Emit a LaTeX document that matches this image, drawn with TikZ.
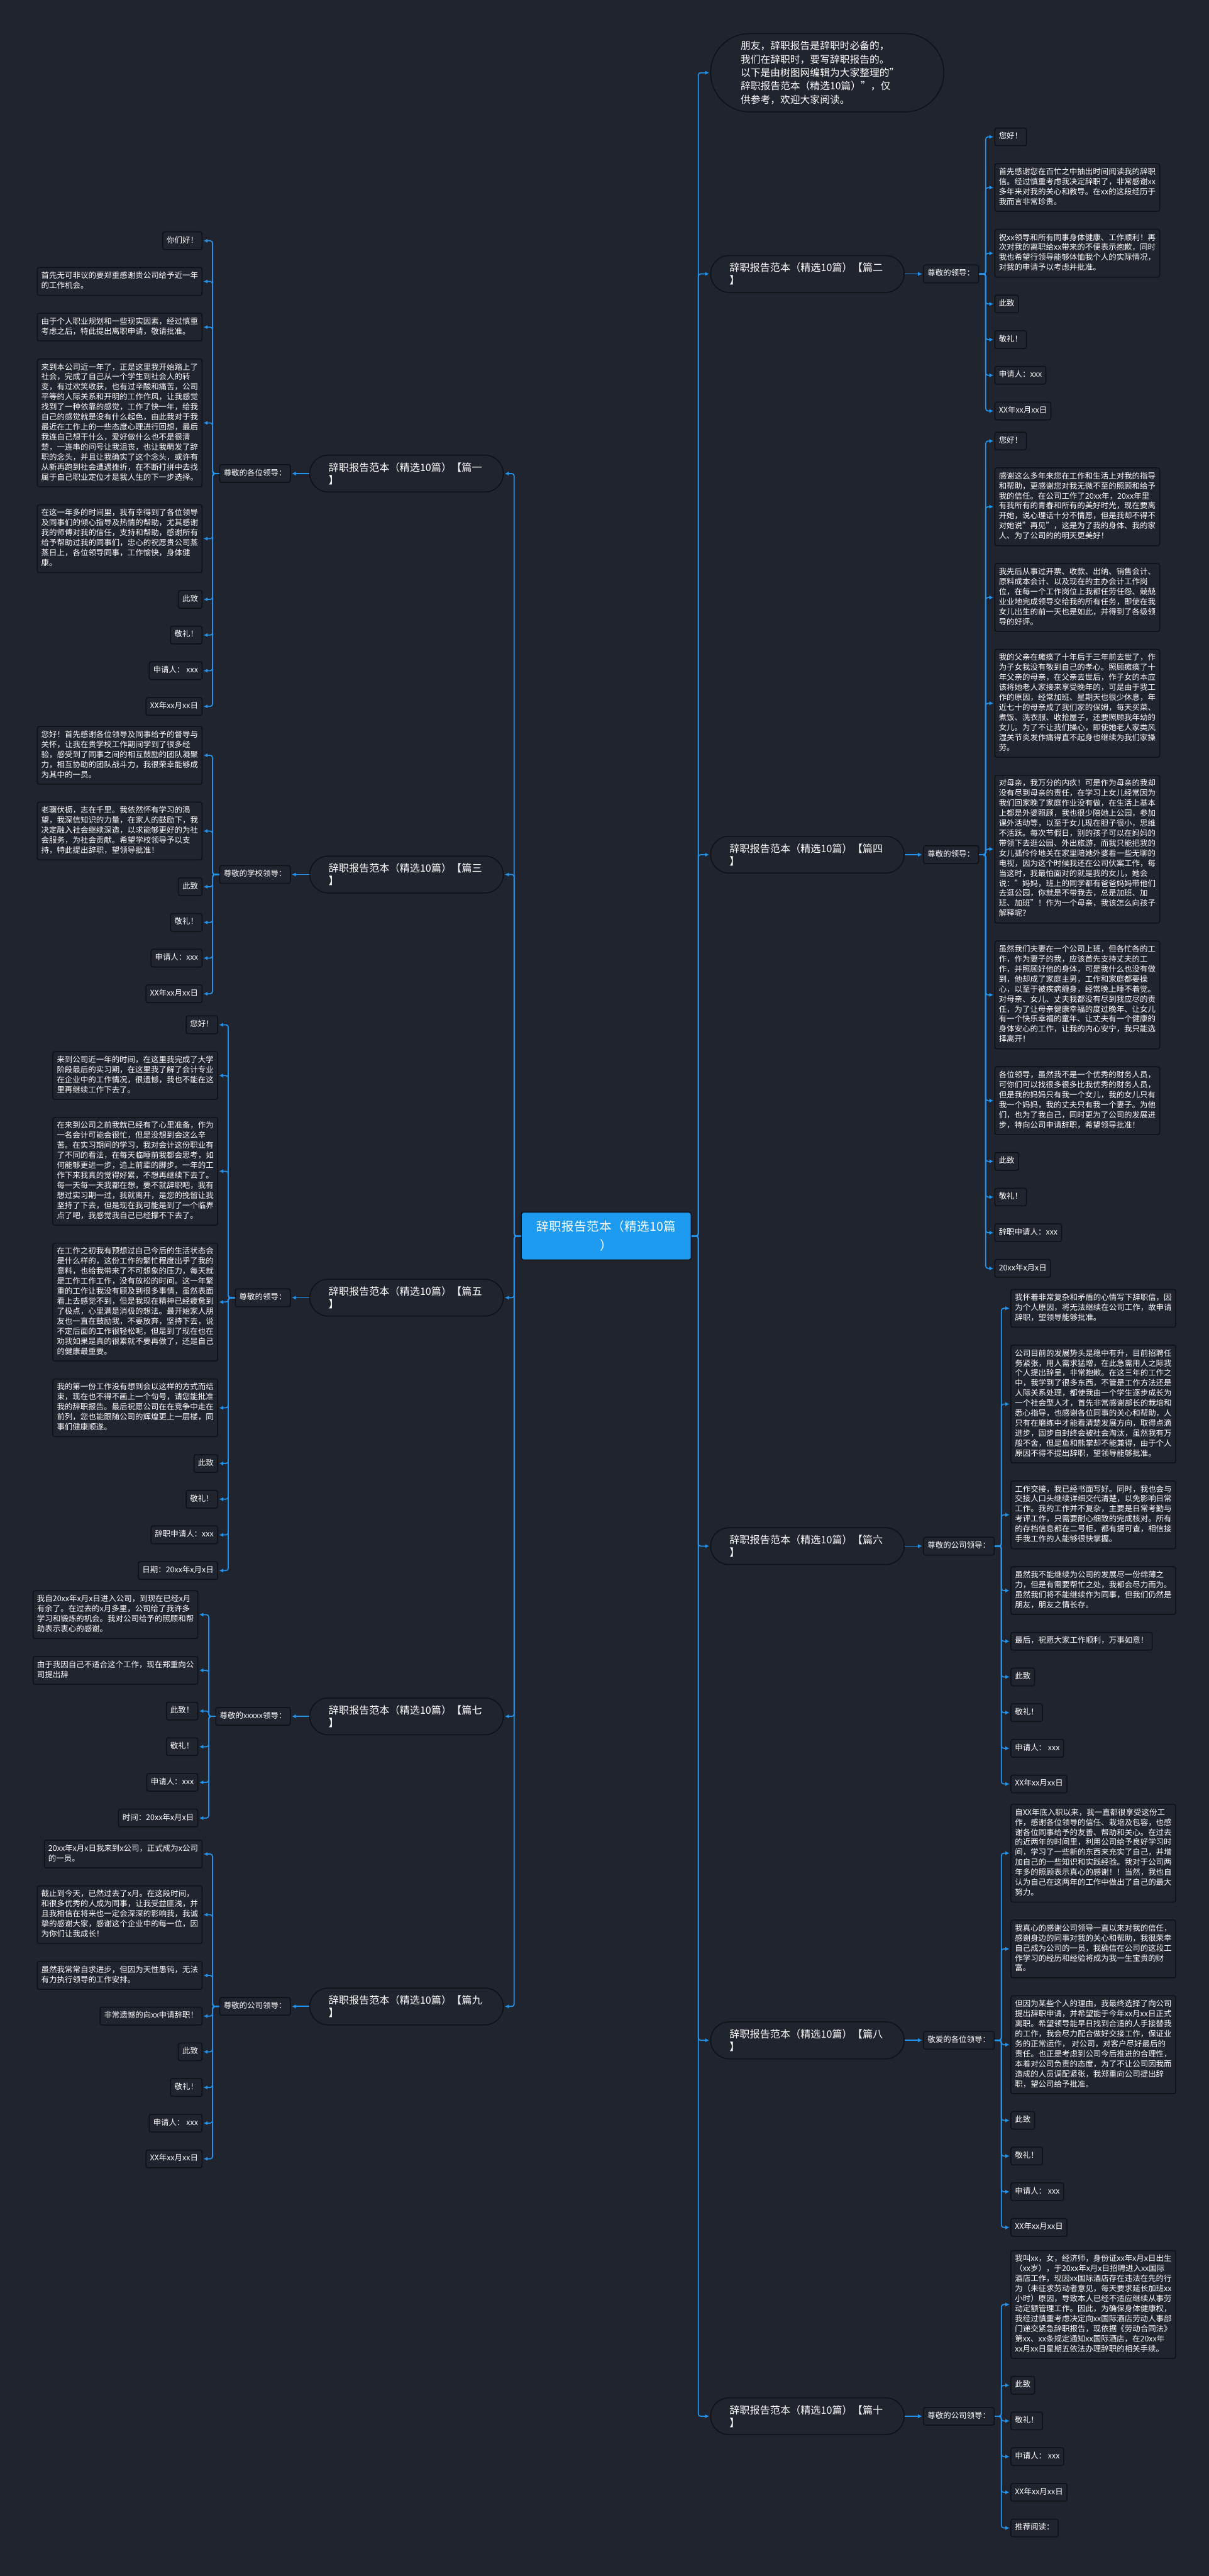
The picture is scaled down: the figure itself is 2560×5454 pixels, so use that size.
\documentclass[tikz,border=0pt]{standalone}
\usepackage{fontspec}
\setmainfont{Noto Sans CJK SC}
\usepackage{varwidth}
\usetikzlibrary{positioning,calc,arrows.meta}
\XeTeXlinebreaklocale "zh"
\XeTeXlinebreakskip=0pt plus 1pt

\definecolor{bg}{HTML}{20242F}
\definecolor{boxline}{HTML}{0E1015}
\definecolor{connblue}{HTML}{2293EC}
\definecolor{rootblue}{HTML}{1C9BF0}

\tikzset{
  leaf/.style={draw=boxline, fill=bg, line width=0.6pt, rounded corners=1.2pt,
    inner xsep=2.55pt, inner ysep=2.45pt, text=white,
    font=\fontsize{4.98}{6.36}\selectfont},
  lab/.style={leaf, execute at begin node=\strut},
  pill/.style={draw=boxline, fill=bg, line width=0.6pt, rounded corners=11.7pt,
    minimum height=23.4pt, text width=99pt, inner xsep=12pt, align=left,
    text=white, font=\fontsize{6.45}{7.95}\selectfont},
  intro/.style={pill, rounded corners=24.9pt, minimum height=49.8pt,
    text width=110pt, inner xsep=19.1pt, font=\fontsize{6.3}{8.55}\selectfont},
  root/.style={fill=rootblue, draw=boxline, line width=0.6pt, rounded corners=1.5pt,
    minimum width=108pt, minimum height=30.3pt, text width=96pt, inner xsep=6pt,
    align=center, text=white, font=\fontsize{7.8}{11.85}\selectfont},
  conn/.style={draw=connblue, line width=0.7pt, rounded corners=1.5pt,
    -{Latex[length=2.6pt,width=2.6pt]}, shorten >=0.6pt}
}

\newcommand{\leafbox}[1]{\begin{varwidth}{100pt}\raggedright\strut#1\strut\end{varwidth}}

% left half: leaves right-aligned, label, then pill towards the root
\newcommand{\leftblock}[5]{%
  \foreach \txt [count=\i, remember=\i as \j (initially 0)] in {#5} {
    \ifnum\i=1
      \node[leaf, anchor=north east] (#1\i) at (#2) {\leafbox{\txt}};
    \else
      \node[leaf, anchor=north east] (#1\i) at ([yshift=-10.8pt]#1\j.south east) {\leafbox{\txt}};
    \fi
    \xdef\lastleaf{\i}
  }
  \path ($(#11.east)!0.5!(#1\lastleaf.east)$) coordinate (#1m);
  \node[lab, anchor=east] (#1l) at (#1m -| labL) {#3};
  \node[pill, right=11.7pt of #1l] (#1p) {#4};
  \draw[conn] (#1p.west) -- (#1l.east);
  \draw[conn] (root.west) -- ++(-14,0) |- (#1p.east);
  \foreach \k in {1,...,\lastleaf}
    \draw[conn] (#1l.west) -- ++(-14,0) |- (#1\k.east);
}

% right half: pill, label, leaves left-aligned
\newcommand{\rightblock}[5]{%
  \foreach \txt [count=\i, remember=\i as \j (initially 0)] in {#5} {
    \ifnum\i=1
      \node[leaf, anchor=north west] (#1\i) at (#2) {\leafbox{\txt}};
    \else
      \node[leaf, anchor=north west] (#1\i) at ([yshift=-10.8pt]#1\j.south west) {\leafbox{\txt}};
    \fi
    \xdef\lastleaf{\i}
  }
  \path ($(#11.west)!0.5!(#1\lastleaf.west)$) coordinate (#1m);
  \node[pill, anchor=west] (#1p) at (#1m -| pillR) {#4};
  \node[lab, right=11.7pt of #1p] (#1l) {#3};
  \draw[conn] (#1p.east) -- (#1l.west);
  \draw[conn] (root.east) -- ++(14,0) |- (#1p.west);
  \foreach \k in {1,...,\lastleaf}
    \draw[conn] (#1l.east) -- ++(14,0) |- (#1\k.west);
}

\begin{document}
\begin{tikzpicture}[x=0.3pt, y=-0.3pt]
  \fill[bg] (0,0) rectangle (2560,5454);
  \useasboundingbox (0,0) rectangle (2560,5454);
  \coordinate (labL) at (616,0);
  \coordinate (pillR) at (1504,0);

  \node[root] (root) at (1284,2617) {辞职报告范本（精选10篇\\）};

  % intro
  \node[intro, anchor=north west] (intro) at (1504,70) {朋友，辞职报告是辞职时必备的，\\我们在辞职时，要写辞职报告的。\\以下是由树图网编辑为大家整理的"\\辞职报告范本（精选10篇）"，仅\\供参考，欢迎大家阅读。};
  \draw[conn] (root.east) -- ++(14,0) |- (intro.west);

  % 篇一
  \leftblock{a}{429,490}{尊敬的各位领导：}{辞职报告范本（精选10篇）【篇一\\】}{%
    你们好！,
    首先无可非议的要郑重感谢贵公司给予近一年的工作机会。,
    由于个人职业规划和一些现实因素，经过慎重考虑之后，特此提出离职申请，敬请批准。,
    来到本公司近一年了，正是这里我开始踏上了社会，完成了自己从一个学生到社会人的转变，有过欢笑收获，也有过辛酸和痛苦，公司平等的人际关系和开明的工作作风，让我感觉找到了一种依靠的感觉，工作了快一年，给我自己的感觉就是没有什么起色，由此我对于我最近在工作上的一些态度心理进行回想，最后我连自己想干什么，爱好做什么也不是很清楚，一连串的问号让我沮丧，也让我萌发了辞职的念头，并且让我确实了这个念头，或许有从新再跑到社会遭遇挫折，在不断打拼中去找属于自己职业定位才是我人生的下一步选择。,
    在这一年多的时间里，我有幸得到了各位领导及同事们的倾心指导及热情的帮助，尤其感谢我的师傅对我的信任，支持和帮助，感谢所有给予帮助过我的同事们，忠心的祝愿贵公司蒸蒸日上，各位领导同事，工作愉快，身体健康。,
    此致,
    敬礼！,
    申请人： xxx,
    XX年xx月xx日}

  % 篇三
  \leftblock{c}{429,1537}{尊敬的学校领导：}{辞职报告范本（精选10篇）【篇三\\】}{%
    您好！首先感谢各位领导及同事给予的督导与关怀，让我在贵学校工作期间学到了很多经验，感受到了同事之间的相互鼓励的团队凝聚力，相互协助的团队战斗力，我很荣幸能够成为其中的一员。,
    老骥伏枥，志在千里。我依然怀有学习的渴望，我深信知识的力量，在家人的鼓励下，我决定融入社会继续深造，以求能够更好的为社会服务，为社会贡献。希望学校领导予以支持，特此提出辞职，望领导批准！,
    此致,
    敬礼！,
    申请人：xxx,
    XX年xx月xx日}

  % 篇五
  \leftblock{e}{462,2150}{尊敬的领导：}{辞职报告范本（精选10篇）【篇五\\】}{%
    您好！,
    来到公司近一年的时间，在这里我完成了大学阶段最后的实习期，在这里我了解了会计专业在企业中的工作情况，很遗憾，我也不能在这里再继续工作下去了。,
    在来到公司之前我就已经有了心里准备，作为一名会计可能会很忙，但是没想到会这么辛苦。在实习期间的学习，我对会计这份职业有了不同的看法，在每天临睡前我都会思考，如何能够更进一步，追上前辈的脚步。一年的工作下来我真的觉得好累，不想再继续下去了。每一天每一天我都在想，要不就辞职吧，我有想过实习期一过，我就离开，是您的挽留让我坚持了下去，但是现在我可能是到了一个临界点了吧，我感觉我自己已经撑不下去了。,
    在工作之初我有预想过自己今后的生活状态会是什么样的，这份工作的繁忙程度出乎了我的意料，也给我带来了不可想象的压力，每天就是工作工作工作，没有放松的时间。这一年繁重的工作让我没有顾及到很多事情，虽然表面看上去感觉不到，但是我现在精神已经疲惫到了极点，心里满是消极的想法。最开始家人朋友也一直在鼓励我，不要放弃，坚持下去，说不定后面的工作很轻松呢，但是到了现在也在劝我如果是真的很累就不要再做了，还是自己的健康最重要。,
    我的第一份工作没有想到会以这样的方式而结束，现在也不得不画上一个句号，请您能批准我的辞职报告。最后祝愿公司在在竞争中走在前列，您也能跟随公司的辉煌更上一层楼，同事们健康顺遂。,
    此致,
    敬礼！,
    辞职申请人：xxx,
    日期：20xx年x月x日}

  % 篇七
  \leftblock{g}{420,3367}{尊敬的xxxxx领导：}{辞职报告范本（精选10篇）【篇七\\】}{%
    我自20xx年x月x日进入公司，到现在已经x月有余了。在过去的x月多里，公司给了我许多学习和锻炼的机会。我对公司给予的照顾和帮助表示衷心的感谢。,
    由于我因自己不适合这个工作，现在郑重向公司提出辞,
    此致！,
    敬礼！,
    申请人：xxx,
    时间：20xx年x月x日}

  % 篇九
  \leftblock{i}{429,3895}{尊敬的公司领导：}{辞职报告范本（精选10篇）【篇九\\】}{%
    20xx年x月x日我来到x公司，正式成为x公司的一员。,
    截止到今天，已然过去了x月。在这段时间，和很多优秀的人成为同事，让我受益匪浅，并且我相信在将来也一定会深深的影响我，我诚挚的感谢大家，感谢这个企业中的每一位，因为你们让我成长！,
    虽然我常常自求进步，但因为天性愚钝，无法有力执行领导的工作安排。,
    非常遗憾的向xx申请辞职！,
    此致,
    敬礼！,
    申请人： xxx,
    XX年xx月xx日}

  % 篇二
  \rightblock{b}{2106,270}{尊敬的领导：}{辞职报告范本（精选10篇）【篇二\\】}{%
    您好！,
    首先感谢您在百忙之中抽出时间阅读我的辞职信。经过慎重考虑我决定辞职了，非常感谢xx多年来对我的关心和教导。在xx的这段经历于我而言非常珍贵。,
    祝xx领导和所有同事身体健康、工作顺利！再次对我的离职给xx带来的不便表示抱歉，同时我也希望行领导能够体恤我个人的实际情况，对我的申请予以考虑并批准。,
    此致,
    敬礼！,
    申请人：xxx,
    XX年xx月xx日}

  % 篇四
  \rightblock{d}{2106,914}{尊敬的领导：}{辞职报告范本（精选10篇）【篇四\\】}{%
    您好！,
    感谢这么多年来您在工作和生活上对我的指导和帮助，更感谢您对我无微不至的照顾和给予我的信任。在公司工作了20xx年，20xx年里有我所有的青春和所有的美好时光，现在要离开她，说心理话十分不情愿，但是我却不得不对她说"再见"，这是为了我的身体、我的家人、为了公司的的明天更美好！,
    我先后从事过开票、收款、出纳、销售会计、原料成本会计、以及现在的主办会计工作岗位，在每一个工作岗位上我都任劳任怨、兢兢业业地完成领导交给我的所有任务，即使在我女儿出生的前一天也是如此，并得到了各级领导的好评。,
    我的父亲在瘫痪了十年后于三年前去世了，作为子女我没有敬到自己的孝心。照顾瘫痪了十年父亲的母亲，在父亲去世后，作子女的本应该将她老人家接来享受晚年的，可是由于我工作的原因，经常加班、星期天也很少休息，年近七十的母亲成了我们家的保姆，每天买菜、煮饭、洗衣服、收拾屋子，还要照顾我年幼的女儿。为了不让我们操心，即使她老人家类风湿关节炎发作痛得直不起身也继续为我们家操劳。,
    对母亲，我万分的内疚！可是作为母亲的我却没有尽到母亲的责任，在学习上女儿经常因为我们回家晚了家庭作业没有做，在生活上基本上都是外婆照顾，我也很少陪她上公园，参加课外活动等，以至于女儿现在胆子很小，思维不活跃。每次节假日，别的孩子可以在妈妈的带领下去逛公园、外出旅游，而我只能把我的女儿孤伶伶地关在家里陪她外婆看一些无聊的电视，因为这个时候我还在公司伏案工作，每当这时，我最怕面对的就是我的女儿，她会说："妈妈，班上的同学都有爸爸妈妈带他们去逛公园，你就是不带我去，总是加班、加班、加班"！作为一个母亲，我该怎么向孩子解释呢？,
    虽然我们夫妻在一个公司上班，但各忙各的工作，作为妻子的我，应该首先支持丈夫的工作，并照顾好他的身体，可是我什么也没有做到，他却成了家庭主男，工作和家庭都要操心，以至于被疾病缠身，经常晚上睡不着觉。对母亲、女儿、丈夫我都没有尽到我应尽的责任，为了让母亲健康幸福的度过晚年、让女儿有一个快乐幸福的童年、让丈夫有一个健康的身体安心的工作，让我的内心安宁，我只能选择离开！,
    各位领导，虽然我不是一个优秀的财务人员，可你们可以找很多很多比我优秀的财务人员，但是我的妈妈只有我一个女儿，我的女儿只有我一个妈妈，我的丈夫只有我一个妻子。为他们，也为了我自己，同时更为了公司的发展进步，特向公司申请辞职，希望领导批准！,
    此致,
    敬礼！,
    辞职申请人：xxx,
    20xx年x月x日}

  % 篇六
  \rightblock{f}{2140,2729}{尊敬的公司领导：}{辞职报告范本（精选10篇）【篇六\\】}{%
    我怀着非常复杂和矛盾的心情写下辞职信，因为个人原因，将无法继续在公司工作，故申请辞职，望领导能够批准。,
    公司目前的发展势头是稳中有升，目前招聘任务紧张，用人需求猛增，在此急需用人之际我个人提出辞呈，非常抱歉。在这三年的工作之中，我学到了很多东西，不管是工作方法还是人际关系处理，都使我由一个学生逐步成长为一个社会型人才，首先非常感谢部长的栽培和悉心指导，也感谢各位同事的关心和帮助，人只有在磨练中才能看清楚发展方向，取得点滴进步，固步自封终会被社会淘汰，虽然我有万般不舍，但是鱼和熊掌却不能兼得，由于个人原因不得不提出辞职，望领导能够批准。,
    工作交接，我已经书面写好。同时，我也会与交接人口头继续详细交代清楚，以免影响日常工作。我的工作并不复杂，主要是日常考勤与考评工作，只需要耐心细致的完成核对。所有的存档信息都在二号柜，都有据可查，相信接手我工作的人能够很快掌握。,
    虽然我不能继续为公司的发展尽一份绵薄之力，但是有需要帮忙之处，我都会尽力而为。虽然我们将不能继续作为同事，但我们仍然是朋友，朋友之情长存。,
    最后，祝愿大家工作顺利，万事如意！,
    此致,
    敬礼！,
    申请人： xxx,
    XX年xx月xx日}

  % 篇八
  \rightblock{h}{2140,3819}{敬爱的各位领导：}{辞职报告范本（精选10篇）【篇八\\】}{%
    自XX年底入职以来，我一直都很享受这份工作，感谢各位领导的信任、栽培及包容，也感谢各位同事给予的友善、帮助和关心。在过去的近两年的时间里，利用公司给予良好学习时间，学习了一些新的东西来充实了自己，并增加自己的一些知识和实践经验。我对于公司两年多的照顾表示真心的感谢！！当然，我也自认为自己在这两年的工作中做出了自己的最大努力。,
    我真心的感谢公司领导一直以来对我的信任，感谢身边的同事对我的关心和帮助，我很荣幸自己成为公司的一员，我确信在公司的这段工作学习的经历和经验将成为我一生宝贵的财富。,
    但因为某些个人的理由，我最终选择了向公司提出辞职申请，并希望能于今年xx月xx日正式离职。希望领导能早日找到合适的人手接替我的工作，我会尽力配合做好交接工作，保证业务的正常运作， 对公司，对客户尽好最后的责任。也正是考虑到公司今后推进的合理性，本着对公司负责的态度，为了不让公司因我而造成的人员调配紧张，我郑重向公司提出辞职，望公司给予批准。,
    此致,
    敬礼！,
    申请人： xxx,
    XX年xx月xx日}

  % 篇十
  \rightblock{j}{2140,4764}{尊敬的公司领导：}{辞职报告范本（精选10篇）【篇十\\】}{%
    我叫xx，女，经济师，身份证xx年x月x日出生（xx岁），于20xx年x月x日招聘进入xx国际酒店工作，现因xx国际酒店存在违法在先的行为（未征求劳动者意见，每天要求延长加班xx小时）原因，导致本人已经不适应继续从事劳动定额管理工作。因此，为确保身体健康权，我经过慎重考虑决定向xx国际酒店劳动人事部门递交紧急辞职报告，现依据《劳动合同法》第xx、xx条规定通知xx国际酒店，在20xx年xx月xx日星期五依法办理辞职的相关手续。,
    此致,
    敬礼！,
    申请人： xxx,
    XX年xx月xx日,
    推荐阅读：}
\end{tikzpicture}
\end{document}
